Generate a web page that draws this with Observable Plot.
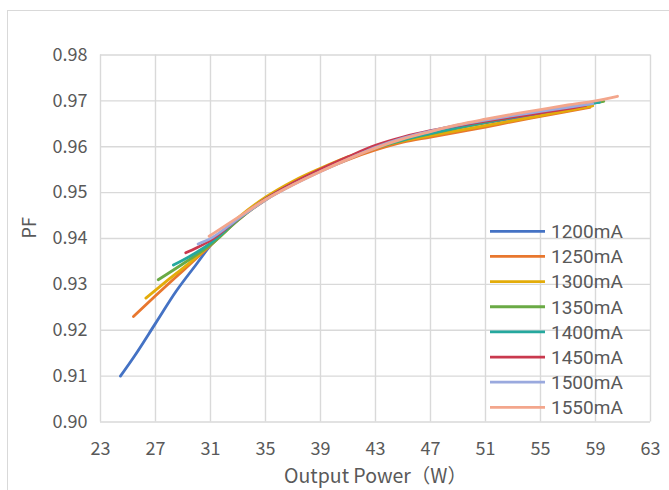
<!DOCTYPE html>
<html>
<head>
<meta charset="utf-8">
<script src="https://cdn.jsdelivr.net/npm/d3@7"></script>
<script src="https://cdn.jsdelivr.net/npm/@observablehq/plot@0.6"></script>
<style>
  html, body { margin: 0; padding: 0; background: #fff; overflow: hidden; }
  #wrap { position: relative; width: 669px; height: 490px; overflow: hidden; }
  #frame { position: absolute; left: 7px; top: 10px; width: 720px; height: 520px; border: 1.5px solid #d9d9d9; box-sizing: border-box; }
  #chart { position: absolute; left: 0; top: 0; }
</style>
</head>
<body>
<div id="wrap"><div id="frame"></div><div id="chart"></div></div>
<script>
const xTicks = [23, 27, 31, 35, 39, 43, 47, 51, 55, 59, 63];
const yTicks = [0.90, 0.91, 0.92, 0.93, 0.94, 0.95, 0.96, 0.97, 0.98];
const seriesNames = ["1200mA", "1250mA", "1300mA", "1350mA", "1400mA", "1450mA", "1500mA", "1550mA"];
const seriesColors = ["#4472C4", "#E8772E", "#E3AC0A", "#6AAA45", "#25A89E", "#C9394E", "#9AA9DE", "#F3A68C"];

const s1200 = [[24.45,0.910],[25.5,0.9145],[27,0.9215],[28.5,0.9285],[30,0.9345],[31,0.9385],[33,0.9443],[35,0.9488],[37,0.9521],[39,0.9549],[41,0.9575],[43,0.9597],[45,0.9614],[47,0.9628],[49,0.9641],[51,0.9652],[53,0.9662],[55,0.9671],[57,0.9680],[58.4,0.9688]];
const s1250 = [[25.4,0.923],[27,0.9275],[29,0.9330],[31,0.9385],[33,0.9440],[35,0.9484],[37,0.9518],[39,0.9547],[41,0.9572],[43,0.9593],[45,0.9610],[47,0.9621],[49,0.9632],[51,0.9643],[53,0.9655],[55,0.9666],[57,0.9677],[58.6,0.9686]];
const s1300 = [[26.3,0.927],[28,0.9312],[30,0.9360],[31,0.9388],[33,0.9445],[35,0.9490],[37,0.9525],[39,0.9553],[41,0.9578],[43,0.9598],[45,0.9613],[47,0.9624],[49,0.9635],[51,0.9646],[53,0.9657],[55,0.9668],[57,0.9679],[58.8,0.9689]];
const s1350 = [[27.2,0.931],[29,0.9345],[31,0.9386],[33,0.9440],[35,0.9485],[37,0.9519],[39,0.9548],[41,0.9574],[43,0.9597],[45,0.9614],[47,0.9628],[49,0.9641],[51,0.9653],[53,0.9665],[55,0.9676],[57,0.9686],[59.6,0.9699]];
const s1400 = [[28.3,0.9342],[30,0.9370],[31,0.9390],[33,0.9442],[35,0.9486],[37,0.9520],[39,0.9549],[41,0.9575],[43,0.9598],[45,0.9615],[47,0.9629],[49,0.9642],[51,0.9654],[53,0.9665],[55,0.9676],[57,0.9686],[59.3,0.9697]];
const s1450 = [[29.2,0.9369],[30,0.9380],[31,0.9396],[33,0.9443],[35,0.9486],[37,0.9521],[39,0.9551],[41,0.9578],[43,0.9603],[45,0.9621],[47,0.9635],[49,0.9646],[51,0.9656],[53,0.9665],[55,0.9674],[57,0.9683],[58.3,0.9690]];
const s1500 = [[30.1,0.9388],[31,0.9400],[33,0.9443],[35,0.9484],[37,0.9517],[39,0.9546],[41,0.9573],[43,0.9599],[45,0.9619],[47,0.9634],[49,0.9647],[51,0.9658],[53,0.9668],[55,0.9677],[57,0.9686],[58.8,0.9694]];
const s1550 = [[30.9,0.9405],[33,0.9446],[35,0.9485],[37,0.9517],[39,0.9546],[41,0.9573],[43,0.9597],[45,0.9617],[47,0.9633],[49,0.9648],[51,0.9660],[53,0.9671],[55,0.9681],[57,0.9691],[59,0.9700],[60.6,0.9710]];

const seriesData = [s1200, s1250, s1300, s1350, s1400, s1450, s1500, s1550];
const rows = seriesData.flatMap((s, i) => s.map(([w, pf]) => ({series: seriesNames[i], w, pf})));

const font = "'Noto Sans CJK SC', 'Noto Sans', sans-serif";
const legendFont = "Roboto, 'Noto Sans', sans-serif";
const textColor = "#595959";
const gridColor = "#d9d9d9";

const chart = Plot.plot({
  width: 669,
  height: 490,
  marginLeft: 100,
  marginRight: 19,
  marginTop: 54.5,
  marginBottom: 68.5,
  style: {fontFamily: font, fontSize: "18px", color: textColor, background: "transparent"},
  x: {domain: [23, 63], ticks: xTicks},
  y: {domain: [0.90, 0.98], ticks: yTicks},
  color: {domain: seriesNames, range: seriesColors},
  marks: [
    Plot.gridX(xTicks, {stroke: gridColor, strokeOpacity: 1, strokeWidth: 1.4}),
    Plot.gridY(yTicks, {stroke: gridColor, strokeOpacity: 1, strokeWidth: 1.4}),
    Plot.axisX(xTicks, {tickSize: 0, tickPadding: 20, tickFormat: d => String(d), label: null, fill: textColor, fontSize: 18}),
    Plot.axisY(yTicks, {tickSize: 0, tickPadding: 13, tickFormat: d3.format(".2f"), label: null, fill: textColor, fontSize: 18}),
    Plot.line(rows, {x: "w", y: "pf", z: "series", stroke: "series", strokeWidth: 2.8, curve: "monotone-x", strokeLinecap: "round"}),
    Plot.text(["Output Power（W）"], {frameAnchor: "bottom", dy: 55, lineAnchor: "middle", text: d => d, fill: textColor, fontSize: 19.5}),
    Plot.text(["PF"], {frameAnchor: "left", dx: -70, rotate: -90, text: d => d, fill: textColor, fontSize: 18})
  ]
});

document.getElementById("chart").appendChild(chart);

// Legend drawn inside the plot area, vertical list of line swatches
const svg = d3.select(chart.tagName.toLowerCase() === "svg" ? chart : chart.querySelector("svg"));
const lg = svg.append("g").attr("font-family", legendFont).attr("font-size", 19).attr("fill", textColor).attr("text-anchor", "start");
seriesNames.forEach((name, i) => {
  const cy = 231.3 + i * 25.15;
  lg.append("line").attr("x1", 490).attr("x2", 545).attr("y1", cy).attr("y2", cy)
    .attr("stroke", seriesColors[i]).attr("stroke-width", 2.8);
  lg.append("text").attr("x", 551).attr("y", cy + 6.8).attr("text-anchor", "start").text(name);
});
</script>
</body>
</html>
